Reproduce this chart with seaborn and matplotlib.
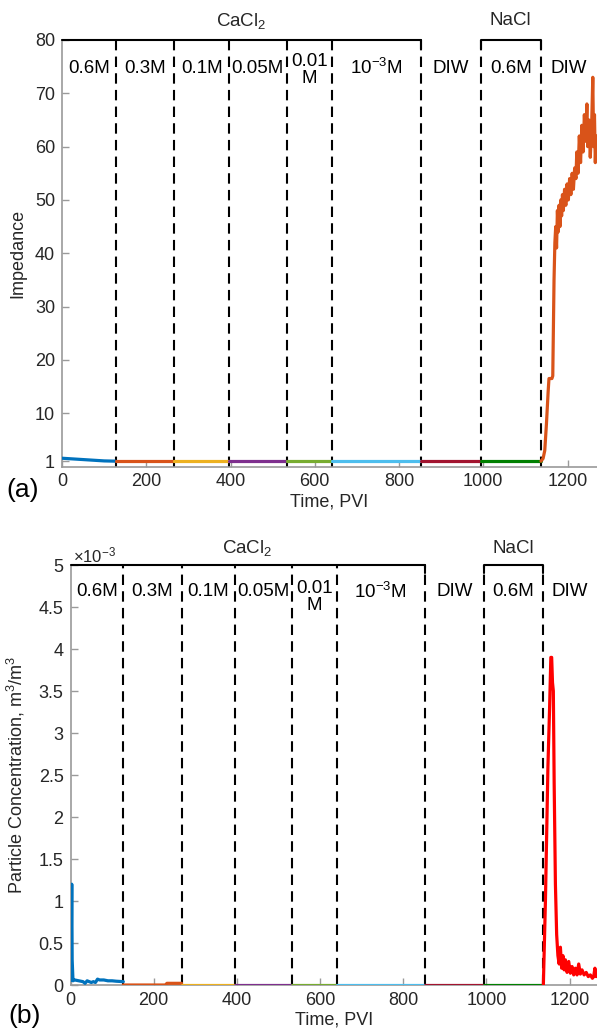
import numpy as np
import pandas as pd
import matplotlib
matplotlib.use("Agg")
import matplotlib.pyplot as plt
import seaborn as sns
from matplotlib.ticker import FuncFormatter

sns.set_style("ticks")
plt.rcParams['font.family'] = ['Liberation Sans', 'DejaVu Sans']
plt.rcParams['mathtext.default'] = 'regular'

# ---------------- data ----------------
boundaries = [127, 267, 396, 533, 640, 852, 994, 1137]
seg_labels = ["0.6M", "0.3M", "0.1M", "0.05M", "0.01\nM", "10$^{-3}$M", "DIW", "0.6M", "DIW"]
seg_colors = ["#0072BD", "#D95319", "#EDB120", "#7E2F8E", "#77AC30",
              "#4DBEEE", "#A2142F", "#008000", "#D95319"]
bottom_last_color = "#FF0000"

# (a) Impedance
imp_x1 = [0, 20, 40, 60, 80, 100, 127]
imp_y1 = [1.55, 1.45, 1.35, 1.25, 1.15, 1.05, 1.0]
imp_flat = 1.0
imp_x9 = [1137, 1142, 1146, 1150, 1154, 1156, 1163, 1165, 1168, 1170, 1172, 1174,
          1176, 1178, 1180, 1182, 1184, 1186, 1188, 1190, 1193, 1196, 1199, 1202,
          1205, 1208, 1211, 1214, 1217, 1220, 1222, 1225, 1228, 1231, 1234, 1237,
          1240, 1243, 1246, 1248, 1251, 1254, 1257, 1260, 1262, 1264, 1266, 1268, 1270]
imp_y9 = [1.0, 1.5, 3, 8, 14, 16.5, 16.5, 17, 35, 42, 45, 41,
          48, 44, 49, 45, 50, 47, 51, 48, 52, 49, 53, 50,
          54, 51, 55, 52, 56, 54, 59, 55, 62, 57, 64, 59,
          66, 61, 68, 60, 65, 58, 63, 73, 60, 66, 57, 62, 59]

# (b) Particle concentration (units of 1e-3 m3/m3)
pc_x1 = [0, 2, 3, 4, 6, 10, 20, 30, 35, 40, 50, 55, 60, 65, 70, 80, 90, 100, 110, 127]
pc_y1 = [0.05, 0.6, 1.2, 0.3, 0.05, 0.06, 0.05, 0.04, 0.02, 0.05, 0.03, 0.04, 0.03,
         0.07, 0.06, 0.06, 0.05, 0.05, 0.045, 0.04]
pc_x2 = [127, 180, 228, 232, 267]
pc_y2 = [0.0, 0.0, 0.0, 0.02, 0.02]
pc_flat = 0.0
pc_x9 = [1137, 1142, 1148, 1152, 1155, 1157, 1159, 1161, 1163, 1166, 1169, 1172,
         1175, 1178, 1181, 1184, 1187, 1190, 1194, 1198, 1202, 1206, 1210, 1214,
         1218, 1222, 1226, 1230, 1235, 1240, 1245, 1250, 1255, 1258, 1261, 1264, 1266]
pc_y9 = [0.0, 1.0, 2.6, 3.3, 3.9, 3.9, 3.6, 3.5, 2.4, 1.2, 0.6, 0.35,
         0.25, 0.45, 0.2, 0.35, 0.18, 0.3, 0.15, 0.28, 0.14, 0.22, 0.12, 0.2,
         0.12, 0.25, 0.13, 0.18, 0.12, 0.15, 0.1, 0.12, 0.08, 0.1, 0.2, 0.1, 0.12]

xmax_top = 1270
xmax_bot = 1266

# ---------------- build frames ----------------
def build(first, second, flat, last, xmax):
    edges = [0] + boundaries + [xmax]
    rows = []
    for i in range(9):
        if i == 0:
            xs, ys = first
        elif i == 1 and second is not None:
            xs, ys = second
        elif i == 8:
            xs, ys = last
        else:
            xs, ys = [edges[i], edges[i + 1]], [flat, flat]
        for x, y in zip(xs, ys):
            rows.append({"x": x, "y": y, "seg": f"s{i}"})
    return pd.DataFrame(rows)

df_a = build((imp_x1, imp_y1), None, imp_flat, (imp_x9, imp_y9), xmax_top)
df_b = build((pc_x1, pc_y1), (pc_x2, pc_y2), pc_flat, (pc_x9, pc_y9), xmax_bot)
df_b["y"] = df_b["y"] * 1e-3

pal_a = {f"s{i}": c for i, c in enumerate(seg_colors)}
pal_b = dict(pal_a)
pal_b["s8"] = bottom_last_color

fig = plt.figure(figsize=(5.97, 10.34), dpi=100)
W, H = 597, 1034
ax1 = fig.add_axes([62 / W, 1 - 466.5 / H, (W - 62) / W, 426.5 / H])
ax2 = fig.add_axes([70.5 / W, 1 - 985 / H, (W - 70.5) / W, 420 / H])

spine_c = "#9a9a9a"
txt_c = "#262626"
TICK_FS = 13
LAB_FS = 13.5

def style(ax, xmax, ylim, yticks):
    ax.set_xlim(0, xmax)
    ax.set_ylim(*ylim)
    ax.set_yticks(yticks)
    ax.set_xticks([0, 200, 400, 600, 800, 1000, 1200])
    for s in ["top", "right"]:
        ax.spines[s].set_visible(False)
    for s in ["left", "bottom"]:
        ax.spines[s].set_color(spine_c)
        ax.spines[s].set_linewidth(1.2)
    ax.tick_params(direction="in", length=5, width=1, color=spine_c,
                   labelsize=TICK_FS, labelcolor=txt_c, pad=5)
    ax.set_xlabel("Time, PVI", fontsize=TICK_FS, color=txt_c, labelpad=2)

def decorate(ax, xmax, ytop, ylab, label_y, label_y_two, head_off):
    for b in boundaries:
        ax.axvline(b, color="black", lw=1.5, linestyle=(0, (5, 3)), zorder=1)
    tick_len = 0.02 * (ax.get_ylim()[1] - ax.get_ylim()[0])
    ax.plot([0, 852], [ytop, ytop], color="black", lw=1.5, clip_on=False, zorder=5)
    ax.plot([852, 852], [ytop, ytop - tick_len], color="black", lw=1.5, clip_on=False)
    ax.plot([994, 994, 1137, 1137], [ytop - tick_len, ytop, ytop, ytop - tick_len],
            color="black", lw=1.5, clip_on=False, zorder=5)
    ax.annotate("CaCl$_2$", xy=(426, ytop), xytext=(0, head_off), textcoords="offset points",
                ha="center", va="center", fontsize=LAB_FS, color=txt_c, annotation_clip=False)
    ax.annotate("NaCl", xy=(1065, ytop), xytext=(0, head_off), textcoords="offset points",
                ha="center", va="center", fontsize=LAB_FS, color=txt_c, annotation_clip=False)
    edges = [0] + boundaries + [xmax]
    for i, lab in enumerate(seg_labels):
        xc = (edges[i] + edges[i + 1]) / 2
        yy = label_y_two if "\n" in lab else label_y
        ax.text(xc, yy, lab, ha="center", va="center", fontsize=LAB_FS, color="black",
                linespacing=1.05)
    ax.set_ylabel(ylab, fontsize=TICK_FS, color=txt_c)

# ---- panel (a)
sns.lineplot(data=df_a, x="x", y="y", hue="seg", palette=pal_a, estimator=None,
             sort=False, legend=False, linewidth=2.3, ax=ax1, zorder=3)
style(ax1, xmax_top, (0, 80), [1, 10, 20, 30, 40, 50, 60, 70, 80])
decorate(ax1, xmax_top, 80, "Impedance", 74.7, 74.4, 14)
ax1.yaxis.set_label_coords(-0.066, 0.5)

# ---- panel (b)
sns.lineplot(data=df_b, x="x", y="y", hue="seg", palette=pal_b, estimator=None,
             sort=False, legend=False, linewidth=2.3, ax=ax2, zorder=3)
style(ax2, xmax_bot, (0, 5e-3), [i * 0.5e-3 for i in range(11)])
ax2.yaxis.set_major_formatter(FuncFormatter(lambda v, p: f"{v * 1e3:g}"))
ax2.text(0.005, 1.0, "×10$^{-3}$", transform=ax2.transAxes, ha="left", va="bottom",
         fontsize=12, color=txt_c)
decorate(ax2, xmax_bot, 5e-3, "Particle Concentration, m$^3$/m$^3$", 4.68e-3, 4.62e-3, 12)
ax2.yaxis.set_label_coords(-0.082, 0.5)

fig.text(6 / W, 1 - 490 / H, "(a)", fontsize=19, color="black", va="center")
fig.text(8 / W, 1 - 1016 / H, "(b)", fontsize=19, color="black", va="center")

fig.savefig("out.png", dpi=100)
